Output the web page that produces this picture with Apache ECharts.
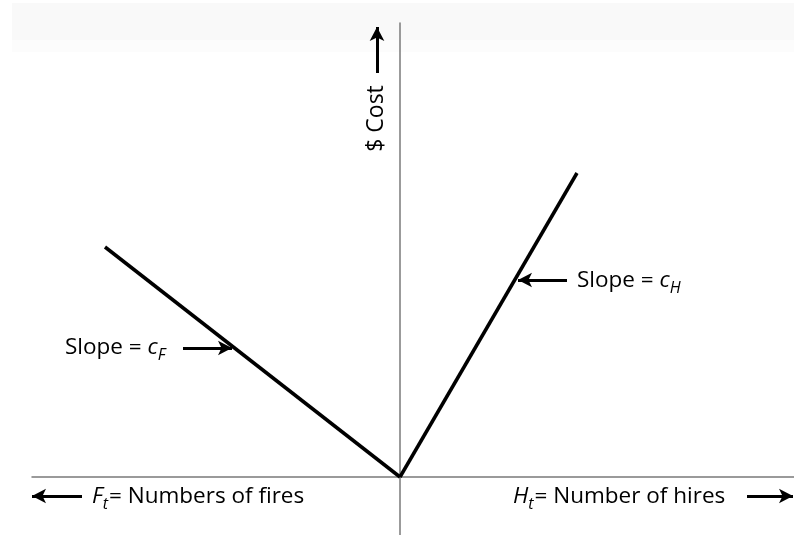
<!DOCTYPE html>
<html>
<head>
<meta charset="utf-8">
<script src="https://cdn.jsdelivr.net/npm/echarts@6/dist/echarts.min.js"></script>
<style>
  html, body { margin: 0; padding: 0; background: #fff; }
  #chart { width: 794px; height: 535px; }
</style>
</head>
<body>
<div id="chart"></div>
<script>
// cost lines (x: fires to the left / hires to the right, y: $ cost)
var firesLine = [[0, 0], [-5.9, 4.6]];
var hiresLine = [[0, 0], [3.54, 6.08]];

// pointer arrows [from, to]
var slopeHArrow = [[3.34, 3.94], [2.36, 3.94]];
var slopeFArrow = [[-4.34, 2.58], [-3.36, 2.58]];
var costArrow = [[-0.46, 8.08], [-0.46, 9.0]];
var firesArrow = [[-6.36, -0.38], [-7.36, -0.38]];
var hiresArrow = [[6.94, -0.38], [7.86, -0.38]];

// text labels: [x, y, text]
var notes = [
  [3.54, 3.92, '{a|Slope = }{i|c}{s|H}'],
  [-6.7, 2.58, '{a|Slope = }{i|c}{s|F}'],
  [-6.16, -0.4, '{i|F}{s|t}{a|= Numbers of fires}'],
  [2.26, -0.4, '{i|H}{s|t}{a|= Number of hires}']
];
var costLabel = [-0.48, 7.17, '$ Cost'];

var FONT = 'Open Sans';
var rich = {
  a: { fontFamily: FONT, fontSize: 22.5, color: '#000' },
  i: { fontFamily: FONT, fontSize: 22.5, fontStyle: 'italic', color: '#000' },
  s: { fontFamily: FONT, fontSize: 16, fontStyle: 'italic', color: '#000', padding: [14, 1, 0, 0] }
};

function arrow(pair) {
  return [{ coord: pair[0] }, { coord: pair[1] }];
}

var myChart = echarts.init(document.getElementById('chart'));

var option = {
  animation: false,
  backgroundColor: '#fff',
  graphic: [
    { type: 'rect', left: 12, top: 3, z: -10, shape: { width: 782, height: 37 }, style: { fill: '#f9f9f9' } },
    { type: 'rect', left: 12, top: 40, z: -10, shape: { width: 782, height: 12 }, style: { fill: '#fcfcfc' } }
  ],
  grid: { left: 32, right: 0, top: 23, bottom: 0 },
  xAxis: {
    type: 'value', min: -7.36, max: 7.88,
    axisLine: { onZero: true, lineStyle: { color: '#7a7a7a', width: 1.5 } },
    axisTick: { show: false }, axisLabel: { show: false }, splitLine: { show: false }
  },
  yAxis: {
    type: 'value', min: -1.16, max: 9.08,
    axisLine: { onZero: true, lineStyle: { color: '#7a7a7a', width: 1.5 } },
    axisTick: { show: false }, axisLabel: { show: false }, splitLine: { show: false }
  },
  series: [
    {
      type: 'line', data: firesLine, symbol: 'none', clip: false,
      lineStyle: { color: '#000', width: 3.5 }
    },
    {
      type: 'line', data: hiresLine, symbol: 'none', clip: false,
      lineStyle: { color: '#000', width: 3.5 },
      markLine: {
        silent: true,
        symbol: ['none', 'arrow'],
        symbolSize: [11, 14],
        label: { show: false },
        lineStyle: { color: '#000', width: 3, type: 'solid' },
        data: [slopeHArrow, slopeFArrow, costArrow, firesArrow, hiresArrow].map(arrow)
      }
    },
    {
      type: 'scatter', symbolSize: 0, clip: false,
      itemStyle: { opacity: 1 },
      data: notes.map(function (n) { return { value: [n[0], n[1]], txt: n[2] }; }),
      label: {
        show: true, position: 'inside', align: 'left', verticalAlign: 'middle',
        opacity: 1,
        formatter: function (p) { return p.data.txt; },
        rich: rich
      }
    },
    {
      type: 'scatter', symbolSize: 0, clip: false,
      itemStyle: { opacity: 1 },
      data: [[costLabel[0], costLabel[1]]],
      label: {
        show: true, position: 'inside', rotate: 90,
        align: 'center', verticalAlign: 'middle', opacity: 1,
        fontFamily: FONT, fontSize: 23, color: '#000',
        formatter: costLabel[2]
      }
    }
  ]
};

myChart.setOption(option);
</script>
</body>
</html>
